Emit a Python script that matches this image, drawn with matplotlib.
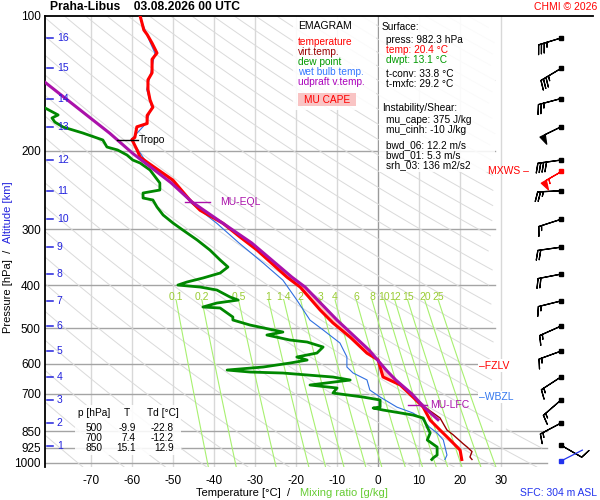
import numpy as np
import matplotlib
matplotlib.use("Agg")
import matplotlib.pyplot as plt
from matplotlib.patches import Rectangle
from matplotlib.ticker import NullLocator

plt.rcParams['font.family'] = ['Liberation Sans', 'DejaVu Sans']

# ---- sounding data ----
temp_p = [100, 107.5, 110, 115, 121, 125, 134, 139, 146, 154, 160, 167, 174, 177, 187, 189,
          199, 207, 213, 233, 258, 272, 291, 312, 334, 384, 404, 455, 486, 523, 568, 588,
          610, 642, 669, 712, 750, 802, 844, 889, 936, 982.3]
temp_t = [-58.0, -57.1, -56.3, -55.1, -53.9, -55.1, -55.1, -56.1, -56.1, -55.6, -54.9, -56.3,
          -56.3, -58.8, -59.3, -60.0, -58.8, -58.0, -56.1, -50.0, -45.9, -43.4, -37.8, -33.7,
          -29.5, -22.2, -19.0, -14.1, -11.0, -6.8, -2.7, 0.0, 0.5, 1.2, 5.4, 8.5, 11.0, 12.7,
          15.1, 17.6, 20.0, 20.4]

virt_p = [712, 750, 793, 844, 865, 905, 921, 943, 970, 982.3]
virt_t = [8.8, 11.4, 15.1, 16.8, 18.3, 20.7, 21.7, 22.9, 22.4, 22.9]

dwpt_p = [160.6, 166.5, 169.1, 172.7, 177.2, 182.7, 189.4, 196.4, 199.4, 204.7, 210, 213.3,
          221.1, 236.4, 245.1, 248.9, 255.4, 258, 267.5, 278.8, 290.5, 301.2, 317.1, 333.9,
          351.5, 364.4, 375.9, 385.7, 393.7, 399.9, 404, 410.3, 425.3, 432, 438.7, 447.8,
          450.1, 471.5, 478.8, 491.4, 509.4, 517.3, 530.8, 536.3, 550.3, 567.6, 579.4, 588.5,
          597.7, 610, 619.6, 626, 629.2, 642.3, 652.3, 669.3, 679.7, 697.5, 712, 723, 749.6,
          753.5, 761.3, 781.2, 793.4, 831, 857, 888.6, 921.3, 960, 975, 982.3]
dwpt_t = [-81.2, -78.0, -79.5, -78.8, -76.8, -72.0, -67.1, -66.1, -63.5, -61.2, -59.8, -58.0,
          -55.6, -53.2, -53.2, -57.3, -57.3, -54.9, -53.9, -52.4, -50.0, -47.6, -44.1, -41.0,
          -38.5, -36.6, -38.5, -42.7, -46.6, -48.8, -43.4, -39.3, -36.1, -34.1, -39.3, -42.7,
          -38.5, -35.4, -35.4, -31.2, -23.2, -27.1, -21.5, -17.3, -13.4, -14.9, -19.8, -17.3,
          -21.5, -28.0, -36.8, -31.2, -23.2, -11.0, -6.8, -16.6, -10.0, -11.0, -3.7, 0.5, 0.5,
          -1.2, 1.2, 8.5, 11.0, 12.0, 12.7, 12.0, 14.4, 14.4, 13.4, 13.1]

wetb_p = [100, 115, 121, 134, 146, 160, 174, 189, 213, 233, 262, 291, 322, 357, 390, 432, 479,
          504, 539, 579, 610, 629, 652, 687, 712, 750, 773, 793, 831, 857, 888, 960, 982.3]
wetb_t = [-58.2, -55.5, -54.4, -55.4, -56.4, -55.2, -56.6, -60.2, -56.4, -50.3, -45.6, -39.3,
          -33.9, -28.0, -23.2, -19.8, -16.6, -13.4, -9.3, -7.6, -7.6, -6.1, -2.7, -2.0, 0.5, 4.6,
          8.5, 10.5, 12.5, 14.4, 15.9, 16.8, 16.3]

parcel_p = [140, 183, 203, 236, 261, 286, 322, 384, 404, 479, 559, 620, 652, 700, 750, 800]
parcel_t = [-81.5, -65.4, -59.8, -50.5, -45.3, -39.0, -30.8, -21.0, -17.8, -10.0, -2.2, 2.0,
            4.3, 8.2, 11.2, 14.6]

p_ticks = [100, 200, 300, 400, 500, 600, 700, 850, 925, 1000]
t_ticks = [-70, -60, -50, -40, -30, -20, -10, 0, 10, 20, 30]
mix_ratios = [0.1, 0.2, 0.5, 1, 1.4, 2, 3, 4, 6, 8, 10, 12, 15, 20, 25]
mix_labels = ['0.1', '0.2', '0.5', '1', '1.4', '2', '3', '4', '6', '8', '10', '12', '15', '20', '25']

alt_km = [1, 2, 3, 4, 5, 6, 7, 8, 9, 10, 11, 12, 13, 14, 15, 16]
alt_p = [916, 814, 723, 642, 562, 494, 434, 378, 329, 285, 246, 210, 177, 153, 131, 112]

# wind barbs at km levels 2..16 (direction from, speed kt)
wind_p = alt_p[1:]
wind_dir = [242, 229, 237, 250, 246, 256, 259, 262, 252, 267, 262, 244, 255, 239, 253]
wind_spd = [15, 15, 15, 15, 15, 15, 20, 20, 15, 25, 40, 50, 25, 35, 35]
low_p, low_dir, low_spd = 912, 120, 10
mxws_p, mxws_dir, mxws_spd = 222, 240, 55

lfc_p, eql_p, tropo_p = 743, 261, 189
fzlv_p, wbzl_p = 606, 712

fig = plt.figure(figsize=(6, 5), dpi=100)
fig.patch.set_facecolor('white')
ax = fig.add_axes([45 / 600, 1 - 467 / 500, 548 / 600, 451 / 500])
ax.set_yscale('log')
ax.set_ylim(1021, 100)
ax.set_xlim(-81.2, 52.4)

# grid: isotherms, isobars
for t in t_ticks:
    ax.axvline(t, color='#9a9a9a' if t == 0 else '#d8d8d8', lw=1.0, zorder=1)
for p in p_ticks[1:]:
    xr = 41.2 if p >= 850 else 28.5
    ax.plot([-81.2, xr], [p, p], color='#a4a4a4', lw=1.0, zorder=1)

# dry adiabats
pp = np.geomspace(100, 1021, 120)
for th in range(190, 600, 10):
    tt = th * (pp / 1000.0) ** 0.286 - 273.15
    lim = np.where(pp >= 830, 41.2, 28.5)
    tt = np.where(tt <= lim, tt, np.nan)
    ax.plot(tt, pp, color='#dadada', lw=0.7, zorder=1)

# mixing ratio lines
pm = np.geomspace(432, 1021, 40)
for w, lab in zip(mix_ratios, mix_labels):
    e = w * pm / (622.0 + w)
    lg = np.log(e / 6.112)
    td = 243.5 * lg / (17.67 - lg)
    ax.plot(td, pm, color='#a8f070', lw=0.8, zorder=2)
    ax.text(td[0], 425, lab, color='#99cc33', fontsize=7.5, ha='center', va='center', zorder=3)

# CAPE shading
pg = np.geomspace(eql_p, lfc_p, 200)
tenv = np.interp(np.log(pg), np.log(temp_p), temp_t)
tpar = np.interp(np.log(pg), np.log(parcel_p), parcel_t)
ax.fill_betweenx(pg, tenv, tpar, where=tpar > tenv, color='#ffc4c4', lw=0, zorder=4)

# profiles
ax.plot(wetb_t, wetb_p, color='#2f6fe0', lw=0.8, zorder=5)
ax.plot(virt_t, virt_p, color='#990000', lw=1.0, zorder=5)
ax.plot(dwpt_t, dwpt_p, color='#008800', lw=2.0, zorder=6)
ax.plot(temp_t, temp_p, color='#ff0000', lw=2.2, zorder=7)
ax.plot(parcel_t, parcel_p, color='#aa11aa', lw=2.2, zorder=8)


def fbox(x0, y0, x1, y1, fc='white', alpha=0.88):
    ax.add_patch(Rectangle((x0 / 600, 1 - y1 / 500), (x1 - x0) / 600, (y1 - y0) / 500,
                           transform=fig.transFigure, facecolor=fc, edgecolor='none',
                           alpha=alpha, zorder=8.5, clip_on=False))


# panels backgrounds (under texts)
fbox(293, 17, 376, 110)
fbox(379, 17, 495, 172)
fbox(75, 405, 181, 455)
fbox(298, 93, 356, 106, fc='#f9c4c4', alpha=1.0)

# level markers
ax.plot([-63.7, -58.5], [tropo_p, tropo_p], color='k', lw=1, zorder=9)
ax.text(-58.3, tropo_p, 'Tropo', fontsize=7.5, va='center', zorder=9)
ax.plot([-47.1, -41.0], [eql_p, eql_p], color='#aa11aa', lw=1, zorder=9)
ax.text(-38.5, eql_p, 'MU-EQL', color='#aa11aa', fontsize=7.5, va='center', zorder=9)
ax.plot([7.3, 12.0], [lfc_p, lfc_p], color='#aa11aa', lw=1, zorder=9)
ax.text(12.7, lfc_p, 'MU-LFC', color='#aa11aa', fontsize=7.5, va='center', zorder=9)
bb = dict(facecolor='white', edgecolor='none', pad=1.0)
ax.text(24.7, fzlv_p, '\u2013FZLV', color='red', fontsize=7.5, va='center', bbox=bb, zorder=9)
ax.text(24.7, wbzl_p, '\u2013WBZL', color='#3377ee', fontsize=7.5, va='center', bbox=bb, zorder=9)
ax.text(36.8, mxws_p, 'MXWS \u2013', color='red', fontsize=7.5, va='center', ha='right', zorder=9)

# altitude scale
for km, p in zip(alt_km, alt_p):
    ax.plot([-80.7, -79.3], [p, p], color='#2222dd', lw=1.1, zorder=9)
    ax.text(-78.3, p, str(km), color='#2222dd', fontsize=7.5, va='center', zorder=9)

# wind barbs
xb = 44.6
bk = dict(length=5.8, lw=0.9, zorder=9, clip_on=False, flip_barb=True)
d = np.radians(wind_dir)
u = -np.array(wind_spd) * np.sin(d)
v = -np.array(wind_spd) * np.cos(d)
ax.barbs([xb] * len(wind_p), wind_p, u, v, color='k', **bk)
ax.plot([xb] * len(wind_p), wind_p, 's', ms=2.2, color='k', zorder=9)
dm = np.radians(mxws_dir)
ax.barbs([xb], [mxws_p], [-mxws_spd * np.sin(dm)], [-mxws_spd * np.cos(dm)], color='red', **bk)
ax.plot([xb], [mxws_p], 's', ms=2.2, color='red', zorder=9)
dl = np.radians(low_dir)
ax.barbs([xb], [low_p], [-low_spd * np.sin(dl)], [-low_spd * np.cos(dl)], color='k', **bk)
ax.plot([xb], [low_p], 's', ms=2.2, color='k', zorder=9)
ax.plot([xb, 49.8], [990, 936], color='#2233ee', lw=0.9, zorder=9)
ax.plot([xb], [990], 's', ms=2.2, color='#2233ee', zorder=9)

# axes styling
for s in ['right', 'bottom']:
    ax.spines[s].set_visible(False)
for s in ['left', 'top']:
    ax.spines[s].set_linewidth(1.3)
ax.set_yticks(p_ticks)
ax.set_yticklabels([str(p) for p in p_ticks], fontsize=8.5)
ax.yaxis.set_minor_locator(NullLocator())
ax.set_xticks(t_ticks)
ax.set_xticklabels([str(t) for t in t_ticks], fontsize=8.5)
ax.tick_params(length=0, pad=3)
ax.tick_params(axis='x', pad=6)


def ftxt(x, y, s, **kw):
    kw.setdefault('fontsize', 7.3)
    kw.setdefault('va', 'center')
    fig.text(x / 600, 1 - y / 500, s, **kw)


# titles
ftxt(50, 7, 'Praha-Libus    03.08.2026 00 UTC', fontsize=8.7, fontweight='bold')
ftxt(597, 7, 'CHMI \u00a9 2026', color='red', fontsize=7.5, ha='right')
ftxt(8, 291, 'Pressure [hPa]  /', rotation=90, ha='center', fontsize=8)
ftxt(8, 212, 'Altitude [km]', rotation=90, ha='center', fontsize=8, color='#2222dd')
ftxt(243, 493, 'Temperature [\u00b0C]  /', ha='center', fontsize=8)
ftxt(344, 493, 'Mixing ratio [g/kg]', ha='center', fontsize=8, color='#66cc33')
ftxt(597, 493, 'SFC: 304 m ASL', ha='right', fontsize=7.5, color='#2233ee')

# legend panel
ftxt(298, 26, 'EMAGRAM', fontsize=7.5)
leg = [('temperature', '#ff0000'), ('virt.temp.', '#990000'), ('dew point', '#009900'),
       ('wet bulb temp.', '#3377ff'), ('udpraft v.temp.', '#aa00bb')]
for i, (s, c) in enumerate(leg):
    ftxt(298, 42 + 10 * i, s, color=c)
ftxt(327, 100, 'MU CAPE', color='red', ha='center')

# surface / instability panel
info = [(27, 'Surface:', 'k', 382), (40, 'press: 982.3 hPa', 'k', 386),
        (50, 'temp: 20.4 \u00b0C', 'red', 386), (60, 'dwpt: 13.1 \u00b0C', '#009900', 386),
        (74, 't-conv: 33.8 \u00b0C', 'k', 386), (84, 't-mxfc: 29.2 \u00b0C', 'k', 386),
        (108, 'Instability/Shear:', 'k', 382), (120, 'mu_cape: 375 J/kg', 'k', 386),
        (130, 'mu_cinh: -10 J/kg', 'k', 386), (145, 'bwd_06: 12.2 m/s', 'k', 386),
        (155, 'bwd_01: 5.3 m/s', 'k', 386), (165, 'srh_03: 136 m2/s2', 'k', 386)]
for y, s, c, x in info:
    ftxt(x, y, s, color=c)

# table of standard levels
tab_p = ['500', '700', '850']
tab_t = ['-9.9', '7.4', '15.1']
tab_td = ['-22.8', '-12.2', '12.9']
ftxt(78, 413, 'p [hPa]')
ftxt(127, 413, 'T', ha='center')
ftxt(147, 413, 'Td [\u00b0C]')
for i in range(3):
    y = 428 + 10 * i
    ftxt(94, y, tab_p[i], ha='center')
    ftxt(136, y, tab_t[i], ha='right')
    ftxt(174, y, tab_td[i], ha='right')

fig.savefig('out.png', dpi=100)
